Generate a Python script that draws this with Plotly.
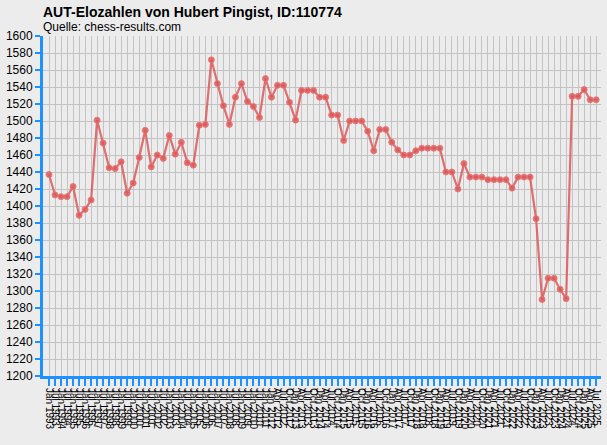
import plotly.graph_objects as go

# Rating list dates: half-yearly until 2011, quarterly from 2012
MONTHS_Q = ["Jan", "Apr", "Jul", "Oct"]
labels = []
for yr in range(1993, 2011):
    labels += [f"Jan {yr}", f"Jul {yr}"]
labels.append("Jan 2011")
for yr in range(2012, 2025):
    labels += [f"{m} {yr}" for m in MONTHS_Q]
labels += ["Jan 2025", "Apr 2025", "Jul 2025"]

elo = [
    1437, 1413, 1411, 1411, 1423, 1389, 1396, 1407, 1501, 1474,
    1445, 1444, 1452, 1415, 1427, 1457, 1489, 1446, 1460, 1456,
    1483, 1461, 1475, 1451, 1448, 1495, 1496, 1572, 1544, 1518,
    1496, 1528, 1544, 1523, 1517, 1504, 1550, 1528, 1542, 1542,
    1522, 1501, 1536, 1536, 1536, 1528, 1528, 1507, 1507, 1477,
    1500, 1500, 1500, 1488, 1465, 1490, 1490, 1475, 1466, 1460,
    1460, 1465, 1468, 1468, 1468, 1468, 1440, 1440, 1420, 1450,
    1434, 1434, 1434, 1431, 1431, 1431, 1431, 1421, 1434, 1434,
    1434, 1385, 1290, 1315, 1315, 1302, 1291, 1529, 1529, 1537,
    1525, 1525,
]

y_ticks = list(range(1200, 1601, 20))

BG = "#ececec"
GRID = "#c3c3c3"
AXIS = "#1e90ff"
LINE = "rgba(222,88,88,0.85)"

fig = go.Figure(go.Scatter(
    x=list(range(len(elo))),
    y=elo,
    mode="lines+markers",
    line=dict(color=LINE, width=2.2),
    marker=dict(size=6, color=LINE, line=dict(color="rgba(230,120,120,0.9)", width=1)),
    hoverinfo="y",
))

fig.update_layout(
    width=607,
    height=445,
    margin=dict(l=43, r=6, t=36, b=69),
    paper_bgcolor=BG,
    plot_bgcolor=BG,
    showlegend=False,
    font=dict(family="Liberation Sans, Arial, sans-serif", color="#000000"),
    xaxis=dict(
        range=[-1, len(elo) - 0.2],
        tickmode="array",
        tickvals=list(range(len(labels))),
        ticktext=labels,
        tickangle=90,
        tickfont=dict(size=10),
        showgrid=True,
        gridcolor=GRID,
        gridwidth=1,
        showline=True,
        linecolor=AXIS,
        linewidth=3,
        ticks="outside",
        ticklen=7,
        tickwidth=2,
        tickcolor=AXIS,
        zeroline=False,
        automargin=False,
        fixedrange=True,
    ),
    yaxis=dict(
        range=[1200, 1600],
        tickmode="array",
        tickvals=y_ticks,
        ticktext=[str(v) for v in y_ticks],
        tickfont=dict(size=12),
        showgrid=True,
        gridcolor=GRID,
        gridwidth=1,
        showline=True,
        linecolor=AXIS,
        linewidth=3,
        ticks="outside",
        ticklen=5,
        tickwidth=2,
        tickcolor=AXIS,
        zeroline=False,
        automargin=False,
        fixedrange=True,
    ),
    annotations=[
        dict(
            text="<b>AUT-Elozahlen von Hubert Pingist, ID:110774</b>",
            xref="paper", yref="paper", x=-0.004, y=1.071,
            xanchor="left", yanchor="middle", showarrow=False,
            font=dict(size=14),
        ),
        dict(
            text="Quelle: chess-results.com",
            xref="paper", yref="paper", x=-0.004, y=1.026,
            xanchor="left", yanchor="middle", showarrow=False,
            font=dict(size=12),
        ),
    ],
)

# the page's default body margin would shift the whole chart by 8px
fig.write_html(
    "out.html",
    config={"displayModeBar": False},
    post_script="document.body.style.margin='0';document.body.style.padding='0';"
                "document.body.style.background='#ececec';",
)
